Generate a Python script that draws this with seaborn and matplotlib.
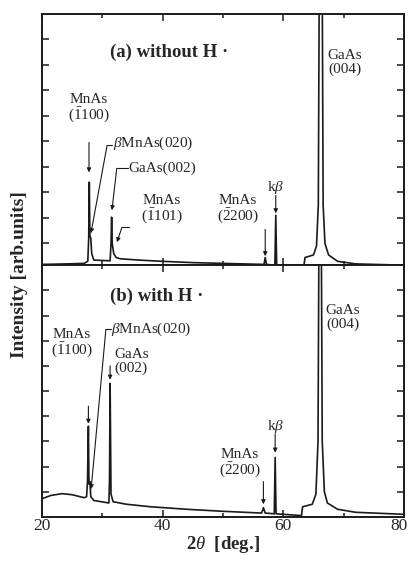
import numpy as np
import matplotlib.pyplot as plt
import matplotlib.transforms as mtransforms
import seaborn as sns

sns.set_theme(context='notebook', style='ticks')
plt.rcParams['font.family'] = ['Liberation Serif', 'DejaVu Serif']
plt.rcParams['mathtext.fontset'] = 'custom'
plt.rcParams['mathtext.rm'] = 'Liberation Serif'
plt.rcParams['mathtext.it'] = 'Liberation Serif:italic'
plt.rcParams['mathtext.bf'] = 'Liberation Serif:bold'

# (a) without H : 2theta [deg] / intensity [arb. units]
top_theta = [20.0, 24.0, 27.0, 27.6, 27.75, 27.85, 27.95, 28.1, 28.25, 28.6,
             31.3, 31.45, 31.55, 31.65, 31.9, 32.3, 33.0, 36.0, 40.0, 45.0,
             50.0, 56.8, 57.0, 57.2, 58.6, 58.75, 58.9, 60.0, 63.4, 63.6,
             65.0, 65.5, 65.8, 65.95, 66.45, 66.6, 66.9, 67.5, 69.0, 72.0, 80.0]
top_int = [0.18, 0.2, 0.22, 0.3, 1.2, 3.4, 1.3, 1.2, 0.6, 0.35,
           0.32, 1.0, 2.03, 1.0, 0.6, 0.45, 0.4, 0.35, 0.3, 0.25,
           0.22, 0.18, 0.45, 0.18, 0.15, 2.1, 0.15, 0.15, 0.12, 0.45,
           0.55, 0.9, 2.5, 11.0, 11.0, 2.5, 1.0, 0.55, 0.3, 0.2, 0.15]

# (b) with H
bot_theta = [20.0, 21.5, 23.3, 25.0, 27.0, 27.4, 27.55, 27.7, 27.8, 27.95,
             28.1, 28.6, 31.1, 31.2, 31.3, 31.45, 31.8, 34.0, 38.0, 44.0,
             50.0, 56.4, 56.7, 57.0, 58.5, 58.65, 58.8, 60.0, 63.0, 63.2,
             64.8, 65.4, 65.75, 65.9, 66.3, 66.45, 66.8, 67.3, 69.0, 72.0, 80.0]
bot_int = [0.72, 0.85, 0.92, 0.88, 0.76, 0.8, 1.4, 3.6, 1.3, 1.4,
           0.8, 0.65, 0.55, 1.5, 5.3, 0.9, 0.6, 0.5, 0.4, 0.3,
           0.22, 0.15, 0.36, 0.15, 0.12, 2.36, 0.12, 0.1, 0.05, 0.4,
           0.5, 0.9, 3.0, 11.0, 11.0, 3.0, 1.0, 0.55, 0.3, 0.18, 0.1]

bar1 = r'$\bar{1}$'
bar2 = r'$\bar{2}$'

fig = plt.figure(figsize=(4.11, 5.63), dpi=100)
ax_a = fig.add_axes([0.102, 0.529, 0.881, 0.447])
ax_b = fig.add_axes([0.102, 0.082, 0.881, 0.447])

sns.lineplot(x=top_theta, y=top_int, ax=ax_a, color='k', lw=1.2, estimator=None, sort=False)
sns.lineplot(x=bot_theta, y=bot_int, ax=ax_b, color='k', lw=1.2, estimator=None, sort=False)

ax_a.set_ylim(0.15, 10)
ax_b.set_ylim(0, 10)
for ax in (ax_a, ax_b):
    ax.set_xlim(20, 80)
    ax.set_xticks([20, 40, 60, 80])
    ax.set_xticks([30, 50, 70], minor=True)
    ax.set_yticks(range(1, 10))
    ax.set_yticklabels([])
    ax.tick_params(which='both', direction='in', top=True, right=True, width=1.1, color='k')
    ax.tick_params(which='major', length=5)
    ax.tick_params(which='minor', length=3)
    for s in ax.spines.values():
        s.set_linewidth(1.4)
        s.set_color('k')
ax_a.set_xticklabels([])
ax_b.set_xticklabels(['20', '40', '60', '80'], fontsize=12.5)
ax_b.tick_params(axis='x', pad=1)
# keep the last tick label inside the canvas
last = ax_b.get_xticklabels()[-1]
last.set_transform(last.get_transform() + mtransforms.ScaledTranslation(-5 / 100, 0, fig.dpi_scale_trans))
ax_b.set_xlabel(r'2$\it{\theta}$  [deg.]', fontsize=13.5, fontweight='bold', labelpad=0)
fig.text(0.047, 0.512, 'Intensity [arb.units]', rotation=90, ha='center', va='center',
         fontsize=14, fontweight='bold')

arr = dict(arrowstyle='-|>', lw=0.8, color='k', mutation_scale=6, shrinkA=0, shrinkB=0)
fs = 11
lsp = 1.0

# ---- panel (a) ----
ax_a.text(31.3, 8.47, '(a) without H ·', fontsize=13.5, fontweight='bold', va='center')
ax_a.text(70.2, 8.6, 'GaAs\n(004)', fontsize=fs, ha='center', va='top', linespacing=lsp)
ax_a.text(27.8, 6.9, 'MnAs\n(' + bar1 + '100)', fontsize=fs, ha='center', va='top', linespacing=lsp)
ax_a.annotate('', xy=(27.8, 3.78), xytext=(27.8, 4.95), arrowprops=arr)
ax_a.text(31.7, 4.9, r'$\it{\beta}$' + 'MnAs(020)', fontsize=fs, va='center')
ax_a.plot([30.8, 31.6], [4.84, 4.84], color='k', lw=0.8)
ax_a.annotate('', xy=(28.12, 1.4), xytext=(30.8, 4.84), arrowprops=arr)
ax_a.text(34.3, 3.95, 'GaAs(002)', fontsize=fs, va='center')
ax_a.plot([32.4, 34.2], [3.94, 3.94], color='k', lw=0.8)
ax_a.annotate('', xy=(31.6, 2.3), xytext=(32.4, 3.94), arrowprops=arr)
ax_a.text(39.9, 2.95, 'MnAs\n(' + bar1 + '101)', fontsize=fs, ha='center', va='top', linespacing=lsp)
ax_a.plot([33.26, 34.4], [1.63, 1.63], color='k', lw=0.8)
ax_a.annotate('', xy=(32.43, 1.05), xytext=(33.26, 1.63), arrowprops=arr)
ax_a.text(52.5, 2.95, 'MnAs\n(' + bar2 + '200)', fontsize=fs, ha='center', va='top', linespacing=lsp)
ax_a.annotate('', xy=(57.0, 0.5), xytext=(57.0, 1.55), arrowprops=arr)
ax_a.text(58.8, 3.2, r'k$\it{\beta}$', fontsize=fs, ha='center', va='center')
ax_a.annotate('', xy=(58.75, 2.18), xytext=(58.75, 2.88), arrowprops=arr)

# ---- panel (b) ----
ax_b.text(31.3, 8.76, '(b) with H ·', fontsize=13.5, fontweight='bold', va='center')
ax_b.text(69.9, 8.45, 'GaAs\n(004)', fontsize=fs, ha='center', va='top', linespacing=lsp)
ax_b.text(25.0, 7.5, 'MnAs\n(' + bar1 + '100)', fontsize=fs, ha='center', va='top', linespacing=lsp)
ax_b.annotate('', xy=(27.7, 3.7), xytext=(27.7, 4.4), arrowprops=arr)
ax_b.text(31.5, 7.45, r'$\it{\beta}$' + 'MnAs(020)', fontsize=fs, va='center')
ax_b.plot([30.6, 31.4], [7.45, 7.45], color='k', lw=0.8)
ax_b.annotate('', xy=(28.15, 1.1), xytext=(30.6, 7.45), arrowprops=arr)
ax_b.text(32.0, 6.7, 'GaAs\n(002)', fontsize=fs, ha='left', va='top', linespacing=lsp)
ax_b.annotate('', xy=(31.3, 5.45), xytext=(31.3, 6.0), arrowprops=arr)
ax_b.text(52.8, 2.75, 'MnAs\n(' + bar2 + '200)', fontsize=fs, ha='center', va='top', linespacing=lsp)
ax_b.annotate('', xy=(56.7, 0.5), xytext=(56.7, 1.4), arrowprops=arr)
ax_b.text(58.65, 3.6, r'k$\it{\beta}$', fontsize=fs, ha='center', va='center')
ax_b.annotate('', xy=(58.65, 2.55), xytext=(58.65, 3.3), arrowprops=arr)

fig.savefig('out.png', dpi=100)
plt.close()
